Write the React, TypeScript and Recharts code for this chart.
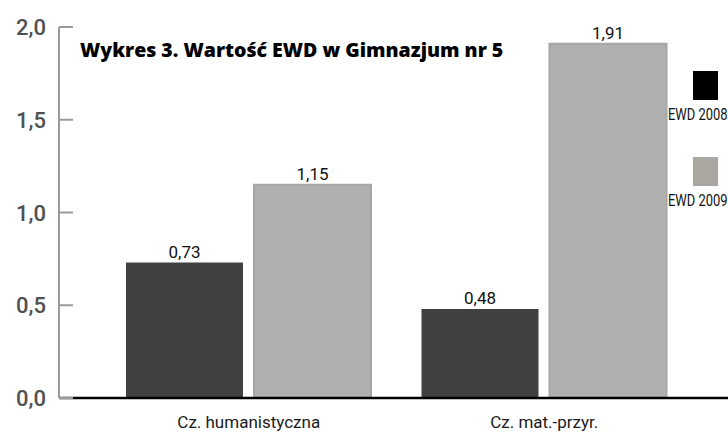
import { BarChart, Bar, XAxis, YAxis, LabelList } from "recharts";

const categories = ["Cz. humanistyczna", "Cz. mat.-przyr."];
const ewdFirst = [0.73, 0.48];
const ewdSecond = [1.15, 1.91];
const seriesNames = ["EWD 2008", "EWD 2009"];
const yTicks = [0, 0.5, 1, 1.5, 2];

const data = categories.map((name, i) => ({
  name,
  first: ewdFirst[i],
  second: ewdSecond[i],
}));

const FONT = "Roboto, sans-serif";
const fmt = (v: number, d: number) => v.toFixed(d).replace(".", ",");

const YTick = (props: any) => {
  const { x, y, payload } = props;
  return (
    <g>
      <line x1={x + 13} x2={x + 27} y1={y} y2={y} stroke="#9a9a9a" strokeWidth={2} />
      <text
        x={x}
        y={y}
        dy={8}
        textAnchor="end"
        fontFamily={FONT}
        fontSize={22}
        fontWeight={500}
        fill="#505050"
      >
        {fmt(payload.value, 1)}
      </text>
    </g>
  );
};

export default function App() {
  return (
    <div
      style={{
        position: "absolute",
        left: 0,
        top: 0,
        width: 728,
        height: 436,
        background: "#fff",
        overflow: "hidden",
      }}
    >
      <BarChart
        width={728}
        height={436}
        data={data}
        margin={{ top: 27, right: 0, bottom: 0, left: 0 }}
        barCategoryGap={25}
        barGap={11}
      >
        <XAxis
          dataKey="name"
          height={38}
          padding={{ left: 42, right: 36 }}
          axisLine={{ stroke: "#000", strokeWidth: 2.5 }}
          tickLine={false}
          tickMargin={12}
          tick={{ fontFamily: FONT, fontSize: 17, fill: "#1a1a1a" }}
        />
        <YAxis
          width={59}
          domain={[0, 2]}
          ticks={yTicks}
          tickSize={0}
          tickMargin={13}
          axisLine={{ stroke: "#9a9a9a", strokeWidth: 2 }}
          tickLine={false}
          tick={<YTick />}
        />
        <Bar dataKey="first" fill="#414141" isAnimationActive={false}>
          <LabelList
            dataKey="first"
            position="top"
            offset={5}
            formatter={(v: any) => fmt(Number(v), 2)}
            style={{ fontFamily: FONT, fontSize: 17, fill: "#111" }}
          />
        </Bar>
        <Bar
          dataKey="second"
          fill="#b0b0b0"
          stroke="#a6a6a6"
          strokeWidth={2}
          isAnimationActive={false}
        >
          <LabelList
            dataKey="second"
            position="top"
            offset={5}
            formatter={(v: any) => fmt(Number(v), 2)}
            style={{ fontFamily: FONT, fontSize: 17, fill: "#111" }}
          />
        </Bar>
      </BarChart>

      {/* Title */}
      <div
        style={{
          position: "absolute",
          left: 80,
          top: 37,
          fontFamily: '"Open Sans", sans-serif',
          fontWeight: 800,
          fontSize: 19.5,
          color: "#000",
          whiteSpace: "nowrap",
          lineHeight: "26px",
        }}
      >
        Wykres 3. Wartość EWD w Gimnazjum nr 5
      </div>

      {/* Legend */}
      {seriesNames.map((s, i) => (
        <div
          key={s}
          style={{
            position: "absolute",
            left: 668,
            top: 71 + i * 86,
            width: 60,
            fontFamily: FONT,
            fontSize: 17,
            color: "#111",
            lineHeight: "18px",
          }}
        >
          <div
            style={{
              marginLeft: 25,
              width: 25,
              height: 29,
              background: i === 0 ? "#000" : "#aaa7a3",
            }}
          />
          <div
            style={{
              marginTop: 5,
              whiteSpace: "nowrap",
              transform: "scaleX(0.76)",
              transformOrigin: "left center",
            }}
          >
            {s}
          </div>
        </div>
      ))}
    </div>
  );
}
